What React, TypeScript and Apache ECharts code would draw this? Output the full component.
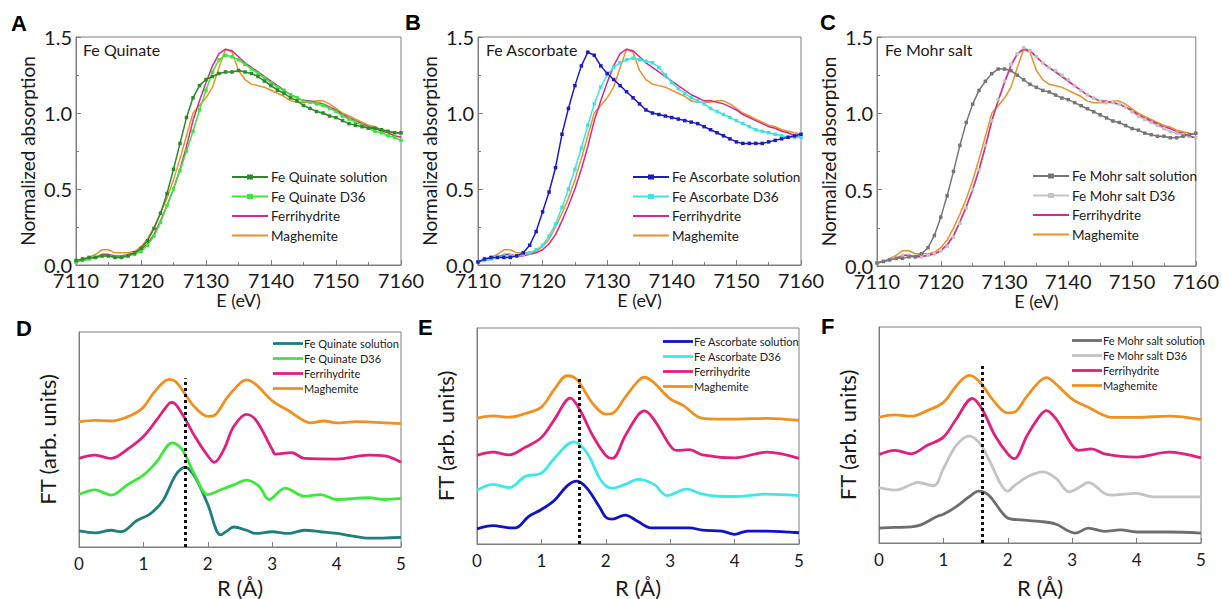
import React, { useEffect, useRef } from "react";
import * as echarts from "echarts";

const FONT = "Lato, 'Open Sans', sans-serif";
const TXT = "#1a1a1a";
const AX = "#7f7f7f";

// ---------- XANES data (panels A-C) ----------
const energy = [7110,7111,7112,7113,7114,7115,7116,7117,7118,7119,7120,7121,7122,7123,7124,7125,7126,7127,7128,7129,7130,7131,7132,7133,7134,7135,7136,7137,7138,7139,7140,7141,7142,7143,7144,7145,7146,7147,7148,7149,7150,7151,7152,7153,7154,7155,7156,7157,7158,7159,7160];

const quinateSolution = [0.03,0.04,0.05,0.05,0.06,0.06,0.05,0.05,0.06,0.08,0.11,0.16,0.24,0.34,0.47,0.63,0.80,0.97,1.10,1.18,1.22,1.24,1.26,1.27,1.27,1.28,1.27,1.26,1.24,1.21,1.18,1.15,1.13,1.10,1.08,1.05,1.03,1.01,1.00,0.98,0.97,0.95,0.93,0.92,0.91,0.90,0.90,0.89,0.88,0.87,0.87];
const quinateD36 = [0.02,0.03,0.04,0.05,0.06,0.06,0.05,0.05,0.06,0.07,0.09,0.13,0.19,0.28,0.39,0.50,0.62,0.75,0.88,1.02,1.15,1.27,1.35,1.38,1.37,1.35,1.32,1.29,1.26,1.23,1.20,1.17,1.15,1.12,1.10,1.08,1.07,1.06,1.05,1.03,1.01,0.98,0.96,0.94,0.92,0.90,0.88,0.87,0.85,0.84,0.82];
const ferrihydriteXanes = [0.02,0.03,0.04,0.05,0.07,0.07,0.06,0.06,0.07,0.08,0.10,0.14,0.20,0.29,0.39,0.50,0.63,0.78,0.95,1.08,1.20,1.31,1.39,1.42,1.41,1.37,1.33,1.30,1.27,1.24,1.21,1.18,1.15,1.12,1.10,1.08,1.08,1.07,1.06,1.04,1.02,0.99,0.97,0.95,0.93,0.91,0.90,0.88,0.87,0.85,0.84];
const maghemiteXanes = [0.02,0.03,0.05,0.07,0.10,0.10,0.08,0.08,0.08,0.09,0.12,0.17,0.25,0.34,0.44,0.56,0.70,0.85,1.00,1.05,1.10,1.17,1.30,1.42,1.40,1.28,1.22,1.19,1.18,1.17,1.15,1.13,1.11,1.08,1.07,1.07,1.07,1.08,1.08,1.06,1.03,1.00,0.98,0.96,0.94,0.92,0.91,0.89,0.88,0.87,0.86];
const ascorbateSolution = [0.02,0.04,0.05,0.05,0.05,0.05,0.06,0.08,0.13,0.22,0.35,0.48,0.64,0.86,1.03,1.18,1.31,1.40,1.38,1.31,1.26,1.22,1.18,1.14,1.10,1.06,1.02,1.00,0.99,0.98,0.97,0.96,0.95,0.94,0.93,0.91,0.89,0.87,0.85,0.83,0.81,0.80,0.80,0.80,0.80,0.81,0.82,0.83,0.84,0.85,0.86];
const ascorbateD36 = [0.02,0.03,0.04,0.05,0.06,0.06,0.06,0.07,0.08,0.10,0.13,0.19,0.27,0.38,0.50,0.63,0.77,0.92,1.06,1.17,1.25,1.30,1.33,1.35,1.36,1.35,1.34,1.33,1.30,1.25,1.20,1.16,1.13,1.10,1.08,1.06,1.03,1.01,0.99,0.97,0.95,0.93,0.91,0.89,0.88,0.87,0.86,0.85,0.84,0.84,0.84];
const mohrSolution = [0.02,0.03,0.04,0.05,0.05,0.06,0.06,0.08,0.12,0.20,0.32,0.46,0.62,0.79,0.94,1.06,1.15,1.21,1.26,1.29,1.29,1.28,1.25,1.22,1.19,1.17,1.15,1.14,1.12,1.10,1.09,1.07,1.05,1.03,1.01,0.99,0.97,0.95,0.94,0.92,0.90,0.89,0.87,0.86,0.85,0.85,0.84,0.84,0.85,0.86,0.87];
const mohrD36 = [0.02,0.03,0.04,0.05,0.07,0.07,0.06,0.06,0.07,0.08,0.10,0.13,0.19,0.28,0.38,0.50,0.63,0.79,0.95,1.09,1.21,1.32,1.39,1.43,1.41,1.37,1.33,1.30,1.28,1.25,1.22,1.18,1.15,1.12,1.10,1.08,1.07,1.07,1.06,1.04,1.01,0.98,0.96,0.94,0.92,0.90,0.88,0.87,0.86,0.85,0.84];

// ---------- EXAFS FT data (panels D-F), [R (Å), FT arb. units 0-100] ----------
const D_maghemite = [[0,58.2],[0.25,58.9],[0.5,58.6],[0.75,60.5],[0.9,62.7],[1.0,65.0],[1.2,73.2],[1.4,78.0],[1.5,77.0],[1.65,71.0],[1.8,65.0],[2.0,60.8],[2.1,61.2],[2.3,69.5],[2.5,76.2],[2.6,77.7],[2.75,75.5],[3.0,68.0],[3.25,63.5],[3.5,58.6],[3.6,57.7],[3.8,58.6],[4.0,57.7],[4.3,58.3],[4.6,58.0],[5.0,57.4]];
const D_ferrihydrite = [[0,41.2],[0.25,42.7],[0.5,41.2],[0.75,45.4],[1.0,51.4],[1.2,58.9],[1.4,66.8],[1.45,67.2],[1.6,62.0],[1.8,51.4],[2.0,42.4],[2.1,39.4],[2.25,45.4],[2.4,55.9],[2.6,61.7],[2.75,58.9],[3.0,45.4],[3.05,43.2],[3.3,43.9],[3.5,41.2],[4.0,40.9],[4.5,42.7],[4.75,42.4],[5.0,39.4]];
const D_quinateD36 = [[0,24.4],[0.25,26.6],[0.5,24.1],[0.75,28.9],[1.0,33.4],[1.2,39.4],[1.45,48.4],[1.6,45.4],[1.8,33.4],[2.0,24.4],[2.2,26.6],[2.4,28.9],[2.6,31.1],[2.8,28.1],[2.95,22.1],[3.2,27.4],[3.5,23.6],[3.75,24.4],[4.0,22.1],[4.5,22.9],[4.75,22.1],[5.0,22.6]];
const D_quinateSolution = [[0,7.5],[0.25,6.6],[0.5,7.8],[0.65,7.1],[0.9,12.3],[1.1,15.3],[1.3,21.4],[1.5,33.4],[1.65,37.1],[1.8,32.6],[2.0,19.8],[2.2,5.6],[2.3,7.5],[2.4,9.3],[2.6,7.8],[2.75,6.3],[3.0,7.1],[3.25,6.3],[3.5,7.8],[3.75,7.1],[4.0,6.3],[4.25,5.1],[4.5,4.1],[5.0,4.5]];

const E_maghemite = [[0,58.2],[0.25,59.3],[0.5,58.7],[0.75,60.4],[1.0,63.4],[1.2,71.6],[1.4,77.9],[1.55,76.1],[1.8,64.9],[2.0,60.1],[2.1,60.4],[2.3,67.9],[2.5,75.4],[2.6,77.2],[2.75,74.6],[3.0,67.2],[3.2,64.2],[3.5,58.2],[4.0,57.8],[4.5,58.2],[5.0,57.2]];
const E_ferrihydrite = [[0,41.0],[0.25,42.5],[0.5,41.3],[0.75,44.8],[1.0,49.3],[1.2,57.5],[1.45,67.5],[1.6,61.9],[1.8,50.0],[2.0,41.0],[2.1,39.6],[2.3,50.0],[2.5,59.7],[2.6,61.6],[2.75,57.5],[3.0,45.5],[3.1,43.3],[3.3,43.7],[3.5,41.3],[4.0,39.9],[4.5,42.5],[5.0,39.6]];
const E_ascorbateD36 = [[0,24.9],[0.25,27.6],[0.5,26.1],[0.75,31.3],[1.0,32.8],[1.2,39.6],[1.5,47.3],[1.7,42.5],[1.9,30.6],[2.0,26.9],[2.1,25.8],[2.3,27.6],[2.5,29.9],[2.75,27.6],[2.95,22.4],[3.25,25.4],[3.5,23.1],[3.75,22.1],[4.0,22.0],[4.5,23.1],[5.0,22.4]];
const E_ascorbateSolution = [[0,7.0],[0.25,8.5],[0.5,7.5],[0.6,7.5],[0.8,12.7],[1.0,16.0],[1.2,20.1],[1.4,26.9],[1.55,29.1],[1.7,26.1],[1.9,17.2],[2.0,12.4],[2.1,11.5],[2.3,13.4],[2.5,10.4],[2.7,7.5],[3.0,7.5],[3.3,7.5],[3.5,6.4],[3.8,6.0],[4.0,4.5],[4.2,6.0],[4.5,6.0],[5.0,5.2]];

const F_maghemite = [[0,58.2],[0.25,59.3],[0.5,58.7],[0.75,61.3],[1.0,65.1],[1.2,72.7],[1.4,77.6],[1.55,75.0],[1.8,65.1],[2.0,60.2],[2.1,60.5],[2.3,68.1],[2.5,75.0],[2.6,76.6],[2.75,73.5],[3.0,66.6],[3.25,62.8],[3.5,59.0],[3.6,58.2],[4.0,58.2],[4.5,58.7],[5.0,57.1]];
const F_ferrihydrite = [[0,40.9],[0.25,42.9],[0.5,41.3],[0.75,45.2],[1.0,49.0],[1.2,57.4],[1.45,66.9],[1.6,62.0],[1.8,49.8],[2.0,41.3],[2.1,39.1],[2.3,49.8],[2.5,59.0],[2.6,61.3],[2.75,57.4],[3.0,45.2],[3.1,42.9],[3.3,43.6],[3.5,41.3],[4.0,39.8],[4.5,42.1],[5.0,39.4]];
const F_mohrD36 = [[0,25.6],[0.25,24.5],[0.5,27.1],[0.6,28.0],[0.85,26.5],[1.0,34.5],[1.2,45.2],[1.4,49.5],[1.55,46.7],[1.7,39.1],[1.9,26.8],[2.0,24.0],[2.1,26.5],[2.3,30.6],[2.55,32.9],[2.75,29.9],[2.95,23.7],[3.1,25.6],[3.25,28.0],[3.5,23.0],[3.6,22.2],[4.0,23.0],[4.25,21.4],[4.5,21.4],[5.0,21.4]];
const F_mohrSolution = [[0,6.9],[0.25,7.2],[0.5,7.5],[0.65,8.4],[0.9,12.3],[1.0,13.3],[1.2,16.8],[1.4,21.4],[1.55,24.0],[1.7,22.2],[1.9,14.5],[2.0,11.5],[2.2,10.7],[2.5,10.0],[2.75,8.7],[2.95,5.4],[3.05,4.6],[3.25,6.9],[3.5,5.4],[3.75,6.1],[4.0,5.1],[4.5,5.1],[5.0,4.6]];

// dotted reference lines: [R position, top of line]
const dashD = [1.65, 78.5];
const dashE = [1.58, 77.6];
const dashF = [1.61, 81.9];

const C = {
  quinSol: "#2b8a2b", quinD36: "#3fe33f",
  ascSol: "#1c1cc4", ascD36: "#3fe2e2",
  mohrSol: "#767676", mohrD36: "#c4c4c4",
  ferri: "#d42a8c", magh: "#e8922a",
  ferriFT: "#e0207f", maghFT: "#f0901f",
  quinSolFT: "#1f7f7f", quinD36FT: "#3de83d",
  ascSolFT: "#1212c4", ascD36FT: "#3fe8e8",
  mohrSolFT: "#6e6e6e", mohrD36FT: "#c4c4c4",
};

const ICON_MARK = "path://M0,4H15V2.5H21V4H36V6H21V7.5H15V6H0Z";
const ICON_LINE = "path://M0,0H36V2H0Z";
const ICON_FT = "path://M0,0H30V2.8H0Z";

function xSeries(name: string, vals: number[], color: string, markers: boolean) {
  return {
    type: "line", name,
    data: energy.map((e, i) => [e, vals[i]]),
    symbol: markers ? "rect" : "none",
    showSymbol: markers,
    symbolSize: 3.5,
    lineStyle: { width: 1.5, color },
    itemStyle: { color },
    emphasis: { disabled: true },
  };
}

function fSeries(name: string, data: number[][], color: string, dash?: number[]) {
  const s: any = {
    type: "line", name, data,
    smooth: 0.35,
    symbol: "none", showSymbol: false,
    lineStyle: { width: 2.8, color },
    itemStyle: { color },
    emphasis: { disabled: true },
  };
  if (dash) {
    s.markLine = {
      silent: true, symbol: "none", label: { show: false },
      lineStyle: { type: [3, 3], width: 3, color: "#111", opacity: 1 },
      data: [[{ coord: [dash[0], 0] }, { coord: [dash[0], dash[1]] }]],
    };
  }
  return s;
}

function letter(text: string, left: number, top: number) {
  return { type: "text", left, top, style: { text, font: "bold 22px 'Liberation Sans', Arial, sans-serif", fill: "#000" } };
}
function title(text: string, left: number, top: number) {
  return { type: "text", left, top, style: { text, font: `16px ${FONT}`, fill: TXT } };
}

const tickCommon = {
  axisLine: { show: true, onZero: false, lineStyle: { color: AX, width: 1 } },
  axisTick: { show: true, inside: true, length: 5, lineStyle: { color: AX } },
  splitLine: { show: false },
  minorSplitLine: { show: false },
};

function xanesOption(grid: any, let_: any, ttl: any, legendPos: any, series: any[], legendNames: string[]) {
  return {
    animation: false,
    grid: { ...grid, show: true, borderColor: AX, borderWidth: 1, backgroundColor: "transparent" },
    xAxis: {
      type: "value", min: 7110, max: 7160, interval: 10,
      ...tickCommon,
      minorTick: { show: true, splitNumber: 2, length: 3, lineStyle: { color: AX } },
      axisLabel: { fontFamily: FONT, fontSize: 20, lineHeight: 16, color: TXT, margin: 7, formatter: (v: number) => String(v) },
      name: "E (eV)", nameLocation: "middle", nameGap: 24,
      nameTextStyle: { fontFamily: FONT, fontSize: 18, color: TXT },
    },
    yAxis: {
      type: "value", min: 0, max: 1.5, interval: 0.5,
      ...tickCommon,
      minorTick: { show: true, splitNumber: 2, length: 3, lineStyle: { color: AX } },
      axisLabel: { fontFamily: FONT, fontSize: 20, lineHeight: 13, color: TXT, margin: 4, formatter: (v: number) => v.toFixed(1) },
      name: "Normalized absorption", nameLocation: "middle", nameGap: 39,
      nameTextStyle: { fontFamily: FONT, fontSize: 19, color: TXT },
    },
    legend: {
      orient: "vertical", ...legendPos,
      itemWidth: 36, itemHeight: 12, itemGap: 5.5, padding: 0,
      textStyle: { fontFamily: FONT, fontSize: 13.5, color: TXT, padding: [0, 0, 0, -2] },
      data: legendNames.map((n, i) => ({ name: n, icon: i < 2 ? ICON_MARK : ICON_LINE })),
      selectedMode: false,
    },
    graphic: [let_, ttl],
    series,
  };
}

function exafsOption(grid: any, let_: any, legendPos: any, series: any[], legendNames: string[], nameGap: number) {
  return {
    animation: false,
    grid: { ...grid, show: true, borderColor: AX, borderWidth: 1, backgroundColor: "transparent" },
    xAxis: {
      type: "value", min: 0, max: 5, interval: 1,
      ...tickCommon,
      axisLabel: { fontFamily: FONT, fontSize: 17, color: TXT, margin: 8 },
      name: "R (Å)", nameLocation: "middle", nameGap,
      nameTextStyle: { fontFamily: FONT, fontSize: 22, color: TXT },
    },
    yAxis: {
      type: "value", min: 0, max: 100,
      ...tickCommon,
      axisTick: { show: false },
      axisLabel: { show: false },
      name: "FT (arb. units)", nameLocation: "middle", nameGap: 21,
      nameTextStyle: { fontFamily: FONT, fontSize: 22, color: TXT },
    },
    legend: {
      orient: "vertical", ...legendPos,
      itemWidth: 30, itemHeight: 10, itemGap: 4, padding: 0,
      textStyle: { fontFamily: FONT, fontSize: 11, color: TXT, padding: [0, 0, 0, -4] },
      data: legendNames.map((n) => ({ name: n, icon: ICON_FT })),
      selectedMode: false,
    },
    graphic: [let_],
    series,
  };
}

const optA = xanesOption(
  { left: 76, top: 37, width: 325, height: 228 },
  letter("A", 11, 12), title("Fe Quinate", 83, 41), { left: 232, top: 170 },
  [
    xSeries("Maghemite", maghemiteXanes, C.magh, false),
    xSeries("Ferrihydrite", ferrihydriteXanes, C.ferri, false),
    xSeries("Fe Quinate D36", quinateD36, C.quinD36, true),
    xSeries("Fe Quinate solution", quinateSolution, C.quinSol, true),
  ],
  ["Fe Quinate solution", "Fe Quinate D36", "Ferrihydrite", "Maghemite"]
);

const optB = xanesOption(
  { left: 478, top: 37, width: 323, height: 228 },
  letter("B", 405, 11), title("Fe Ascorbate", 486, 41), { left: 633, top: 170 },
  [
    xSeries("Maghemite", maghemiteXanes, C.magh, false),
    xSeries("Ferrihydrite", ferrihydriteXanes, C.ferri, false),
    xSeries("Fe Ascorbate D36", ascorbateD36, C.ascD36, true),
    xSeries("Fe Ascorbate solution", ascorbateSolution, C.ascSol, true),
  ],
  ["Fe Ascorbate solution", "Fe Ascorbate D36", "Ferrihydrite", "Maghemite"]
);

const optC = xanesOption(
  { left: 877, top: 37, width: 324, height: 229 },
  letter("C", 820, 11), title("Fe Mohr salt", 885, 41), { left: 1033, top: 169 },
  [
    xSeries("Fe Mohr salt D36", mohrD36, C.mohrD36, true),
    xSeries("Maghemite", maghemiteXanes, C.magh, false),
    xSeries("Ferrihydrite", ferrihydriteXanes, C.ferri, false),
    xSeries("Fe Mohr salt solution", mohrSolution, C.mohrSol, true),
  ],
  ["Fe Mohr salt solution", "Fe Mohr salt D36", "Ferrihydrite", "Maghemite"]
);

const optD = exafsOption(
  { left: 79, top: 332, width: 322, height: 222 },
  letter("D", 16, 317), { left: 273, top: 338 },
  [
    fSeries("Fe Quinate solution", D_quinateSolution, C.quinSolFT, dashD),
    fSeries("Fe Quinate D36", D_quinateD36, C.quinD36FT),
    fSeries("Ferrihydrite", D_ferrihydrite, C.ferriFT),
    fSeries("Maghemite", D_maghemite, C.maghFT),
  ],
  ["Fe Quinate solution", "Fe Quinate D36", "Ferrihydrite", "Maghemite"], 29
);

const optE = exafsOption(
  { left: 477, top: 328, width: 322, height: 224 },
  letter("E", 418, 316), { left: 663, top: 336 },
  [
    fSeries("Fe Ascorbate solution", E_ascorbateSolution, C.ascSolFT, dashE),
    fSeries("Fe Ascorbate D36", E_ascorbateD36, C.ascD36FT),
    fSeries("Ferrihydrite", E_ferrihydrite, C.ferriFT),
    fSeries("Maghemite", E_maghemite, C.maghFT),
  ],
  ["Fe Ascorbate solution", "Fe Ascorbate D36", "Ferrihydrite", "Maghemite"], 32
);

const optF = exafsOption(
  { left: 879, top: 327, width: 322, height: 218 },
  letter("F", 821, 315), { left: 1072, top: 335 },
  [
    fSeries("Fe Mohr salt solution", F_mohrSolution, C.mohrSolFT, dashF),
    fSeries("Fe Mohr salt D36", F_mohrD36, C.mohrD36FT),
    fSeries("Ferrihydrite", F_ferrihydrite, C.ferriFT),
    fSeries("Maghemite", F_maghemite, C.maghFT),
  ],
  ["Fe Mohr salt solution", "Fe Mohr salt D36", "Ferrihydrite", "Maghemite"], 33
);

const OPTIONS = [optA, optB, optC, optD, optE, optF];

function Layer({ option }: { option: any }) {
  const ref = useRef<HTMLDivElement>(null);
  useEffect(() => {
    const chart = echarts.init(ref.current!, null, { renderer: "svg" });
    chart.setOption(option);
    return () => chart.dispose();
  }, [option]);
  return <div ref={ref} style={{ position: "absolute", left: 0, top: 0, width: 1222, height: 599 }} />;
}

export default function App() {
  return (
    <div style={{ position: "fixed", left: 0, top: 0, width: 1222, height: 599, background: "#fff", overflow: "hidden" }}>
      {OPTIONS.map((o, i) => (
        <Layer key={i} option={o} />
      ))}
    </div>
  );
}
